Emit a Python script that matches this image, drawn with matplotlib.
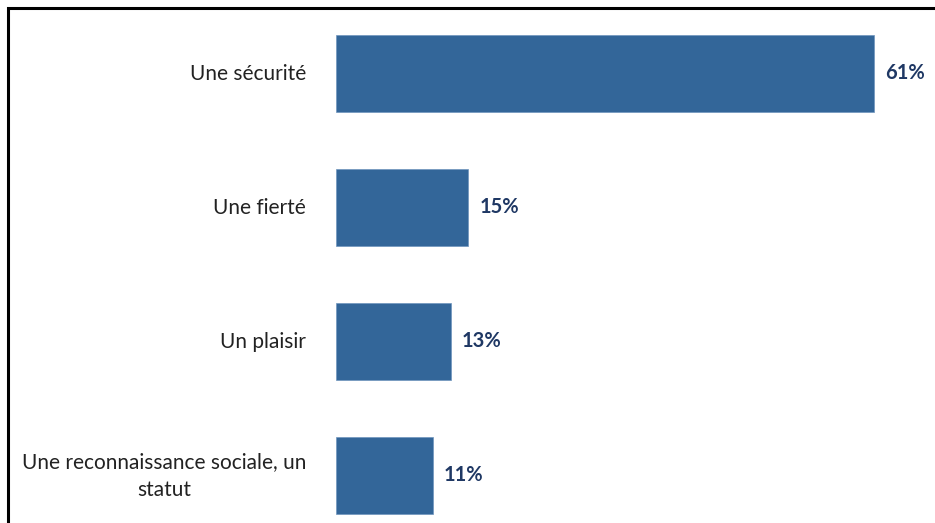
import matplotlib
matplotlib.use("Agg")
import matplotlib.pyplot as plt
from matplotlib.patches import Rectangle

categories = ["Une sécurité", "Une fierté", "Un plaisir", "Une reconnaissance sociale, un\nstatut"]
values = [61, 15, 13, 11]
value_labels = ["61%", "15%", "13%", "11%"]

plt.rcParams['font.family'] = ['Lato', 'DejaVu Sans']

W, H = 935, 523
fig = plt.figure(figsize=(W / 100, H / 100), dpi=100)
fig.patch.set_facecolor("white")

# frame around the chart (extends beyond right/bottom edges)
fig.patches.append(Rectangle((8 / W, -0.1), 1.2, 1.1 - 8 / H, transform=fig.transFigure,
                             fill=False, edgecolor="black", linewidth=2.2, zorder=0))

ax = fig.add_axes([336 / W, 0, 1 - 336 / W, 1])
px_per_unit = 8.82
ax.set_xlim(0, (W - 336) / px_per_unit)
spacing = 134.0
ax.set_ylim(3 + (H - 475) / spacing, -73 / spacing)
ax.axis("off")

ypos = list(range(len(categories)))
ax.barh(ypos, values, height=77 / spacing, color="#336699", edgecolor="#6f95bd", linewidth=0.5)

for y, v, lab, cat in zip(ypos, values, value_labels, categories):
    ax.annotate(lab, (v, y), xytext=(11, 0), textcoords="offset pixels",
                ha="left", va="center", fontsize=14.5, fontweight="bold", color="#1f3864")
    ax.annotate(cat, (0, y), xytext=(-30, -1), textcoords="offset pixels",
                ha="right", va="center", multialignment="center", fontsize=15,
                color="#222222", linespacing=1.5)

fig.savefig("out.png", dpi=100)
